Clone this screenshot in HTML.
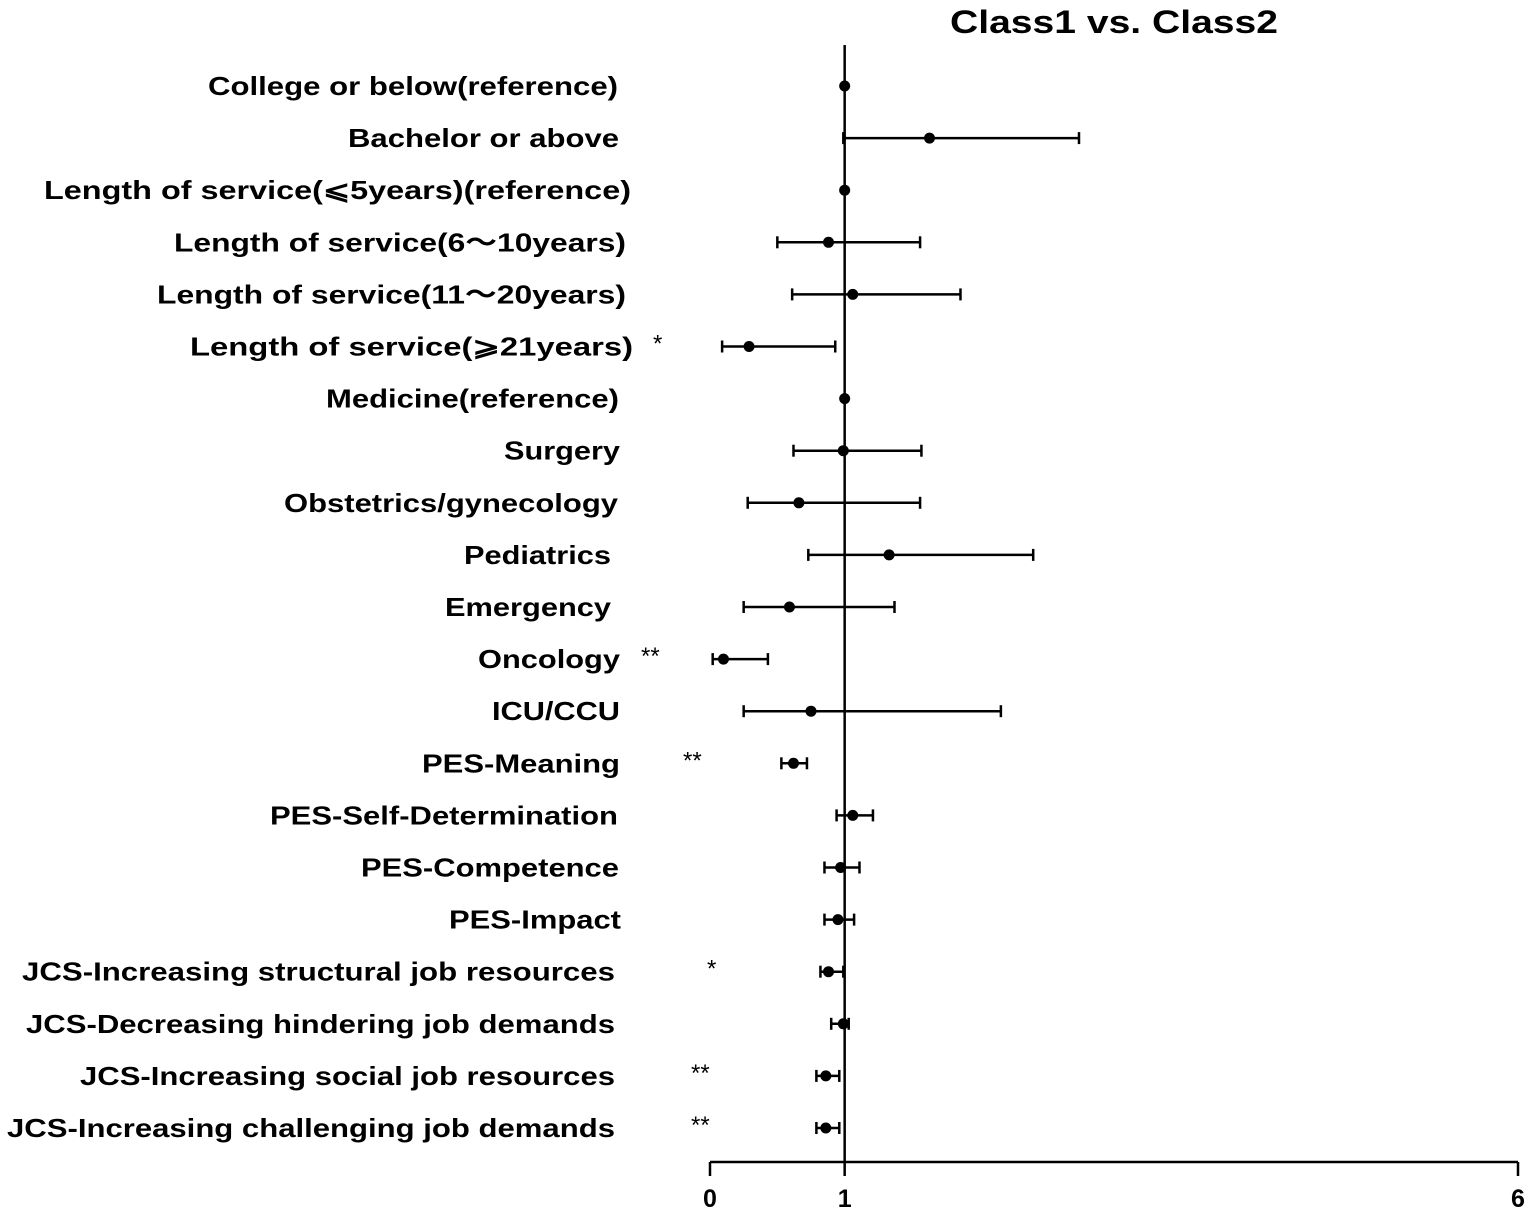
<!DOCTYPE html>
<html><head><meta charset="utf-8"><style>
html,body{margin:0;padding:0;background:#fff;}
svg{display:block;font-family:"Liberation Sans","Noto Sans CJK SC",sans-serif;}
</style></head><body>
<svg id="chart" width="1535" height="1212" viewBox="0 0 1535 1212" xmlns="http://www.w3.org/2000/svg">
<text x="950" y="33" font-size="32" font-weight="bold" textLength="328" lengthAdjust="spacingAndGlyphs">Class1 vs. Class2</text>
<g id="marks"></g>
</svg>
<script>
const categories=["College or below(reference)","Bachelor or above","Length of service(\u2A7D5years)(reference)","Length of service(6\uFF5E10years)","Length of service(11\uFF5E20years)","Length of service(\u2A7E21years)","Medicine(reference)","Surgery","Obstetrics/gynecology","Pediatrics","Emergency","Oncology","ICU/CCU","PES-Meaning","PES-Self-Determination","PES-Competence","PES-Impact","JCS-Increasing structural job resources","JCS-Decreasing hindering job demands","JCS-Increasing social job resources","JCS-Increasing challenging job demands"];
const orValues=[1,1.63,1,0.88,1.06,0.29,1,0.99,0.66,1.33,0.59,0.10,0.75,0.62,1.06,0.97,0.95,0.88,0.99,0.86,0.86];
const ciLow=[1,0.99,1,0.50,0.61,0.09,1,0.62,0.28,0.73,0.25,0.02,0.25,0.53,0.94,0.85,0.85,0.82,0.90,0.79,0.79];
const ciHigh=[1,2.74,1,1.56,1.86,0.93,1,1.57,1.56,2.40,1.37,0.43,2.16,0.72,1.21,1.11,1.07,0.99,1.03,0.96,0.96];
const significance=["","","","","","*","","","","","","**","","**","","","","*","","**","**"];
const tickValues=[0,1,6];
const tickLabels=["0","1","6"];
// layout (not data)
const labelLeft=[208,348,44,174,157,190,326,504,284,464,445,478,492,422,270,361,449,22,26,80,7];
const labelRight=[618,619,631,626,626,633,619,620,618,611,611,620,620,620,618,619,621,615,615,615,615];
const starX=[0,0,0,0,0,653,0,0,0,0,0,641,0,683,0,0,0,707,0,691,691];

const NS="http://www.w3.org/2000/svg";
const g=document.getElementById('marks');
const X0=710,X1=1518,XMAX=6;
function xs(v){return X0+(X1-X0)*v/XMAX;}
function ys(i){return 86+i*52.1;}
function mk(tag,attrs){const e=document.createElementNS(NS,tag);for(const k in attrs)e.setAttribute(k,attrs[k]);g.appendChild(e);return e;}

let ref=mk('line',{x1:xs(1),x2:xs(1),y1:45,y2:1162,stroke:'#000','stroke-width':2.5});


let ax=mk('line',{x1:X0,x2:X1,y1:1162,y2:1162,stroke:'#000','stroke-width':2.5});


tickValues.forEach((t,i)=>{
  let tk=mk('line',{x1:xs(t),x2:xs(t),y1:1162,y2:1176,stroke:'#000','stroke-width':2.5});
  
  
  let tl=mk('text',{x:xs(t),y:1207,'font-size':25,'font-weight':'bold','text-anchor':'middle'});
  tl.textContent=tickLabels[i];
  
  
});
categories.forEach((c,i)=>{
  const y=ys(i);
  let t=mk('text',{x:labelLeft[i],y:y+9,'font-size':26,'font-weight':'bold',textLength:labelRight[i]-labelLeft[i],lengthAdjust:'spacingAndGlyphs'});
  t.textContent=c;
  
  
  if(significance[i]){
    let s=mk('text',{x:starX[i],y:y+5,'font-size':24,'text-anchor':'start'});
    s.textContent=significance[i];
    
    
  }
  if(ciHigh[i]>ciLow[i]){
    let l=mk('line',{x1:xs(ciLow[i]),x2:xs(ciHigh[i]),y1:y,y2:y,stroke:'#000','stroke-width':2.5});
    
    
    [ciLow[i],ciHigh[i]].forEach(v=>{
      let cp=mk('line',{x1:xs(v),x2:xs(v),y1:y-6,y2:y+6,stroke:'#000','stroke-width':2.5});
      
      
    });
  }
  let d=mk('circle',{cx:xs(orValues[i]),cy:y,r:5.5,fill:'#000'});
  
  
});
</script>
</body></html>
